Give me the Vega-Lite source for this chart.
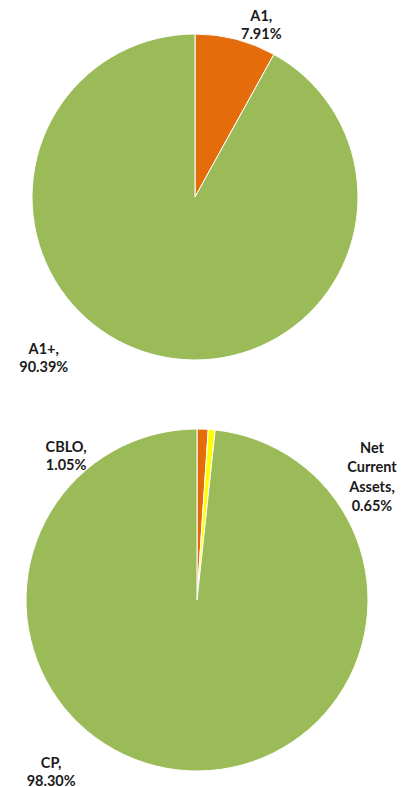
{
  "$schema": "https://vega.github.io/schema/vega-lite/v6.json",
  "padding": 0,
  "spacing": 0,
  "bounds": "flush",
  "background": "white",
  "resolve": {"scale": {"color": "independent", "theta": "independent"}},
  "config": {
    "view": {"stroke": null},
    "text": {"font": "Lato", "fontWeight": "bold", "fontSize": 14.5, "lineHeight": 18, "lineBreak": " ", "color": "#1a1a1a", "align": "center", "baseline": "middle"}
  },
  "datasets": {
    "ratings": [
      {"rating": "A1", "share": 7.91, "rank": 1},
      {"rating": "A1+", "share": 90.39, "rank": 2}
    ],
    "assets": [
      {"asset": "CBLO", "share": 1.05, "rank": 1},
      {"asset": "Net Current Assets", "share": 0.65, "rank": 2},
      {"asset": "CP", "share": 98.30, "rank": 3}
    ]
  },
  "vconcat": [
    {
      "width": 390,
      "height": 394,
      "data": {"name": "ratings"},
      "transform": [
        {"calculate": "datum.rating + ', ' + format(datum.share, '.2f') + '%'", "as": "label"},
        {"stack": "share", "groupby": [], "sort": [{"field": "rank"}], "as": ["s0", "s1"]},
        {"calculate": "(datum.s0 + datum.s1) / 2", "as": "mid"}
      ],
      "layer": [
        {
          "mark": {"type": "arc", "outerRadius": 163, "stroke": "white", "strokeWidth": 1},
          "encoding": {
            "theta": {"field": "share", "type": "quantitative", "stack": true},
            "order": {"field": "rank", "type": "quantitative"},
            "color": {"field": "rating", "type": "nominal", "scale": {"domain": ["A1", "A1+"], "range": ["#E46C0A", "#9BBB59"]}, "legend": null}
          }
        },
        {
          "transform": [{"filter": "datum.rating === 'A1'"}],
          "mark": {"type": "text", "radius": 185, "dx": 20, "dy": -1},
          "encoding": {
            "theta": {"field": "mid", "type": "quantitative", "stack": false},
            "text": {"field": "label", "type": "nominal"}
          }
        },
        {
          "transform": [{"filter": "datum.rating === 'A1+'"}],
          "mark": {"type": "text", "radius": 185, "dx": -105, "dy": -26},
          "encoding": {
            "theta": {"field": "mid", "type": "quantitative", "stack": false},
            "text": {"field": "label", "type": "nominal"}
          }
        }
      ]
    },
    {
      "width": 394,
      "height": 412,
      "data": {"name": "assets"},
      "transform": [
        {"calculate": "datum.asset + ', ' + format(datum.share, '.2f') + '%'", "as": "label"},
        {"stack": "share", "groupby": [], "sort": [{"field": "rank"}], "as": ["s0", "s1"]},
        {"calculate": "(datum.s0 + datum.s1) / 2", "as": "mid"}
      ],
      "layer": [
        {
          "mark": {"type": "arc", "outerRadius": 171, "stroke": "white", "strokeWidth": 1},
          "encoding": {
            "theta": {"field": "share", "type": "quantitative", "stack": true},
            "order": {"field": "rank", "type": "quantitative"},
            "color": {"field": "asset", "type": "nominal", "scale": {"domain": ["CBLO", "Net Current Assets", "CP"], "range": ["#E46C0A", "#FFFF00", "#9BBB59"]}, "legend": null}
          }
        },
        {
          "transform": [{"filter": "datum.asset === 'CBLO'"}],
          "mark": {"type": "text", "radius": 185, "dx": -137, "dy": 33},
          "encoding": {
            "theta": {"field": "mid", "type": "quantitative", "stack": false},
            "text": {"field": "label", "type": "nominal"}
          }
        },
        {
          "transform": [{"filter": "datum.asset === 'Net Current Assets'"}],
          "mark": {"type": "text", "radius": 185, "dx": 159, "dy": 33, "lineHeight": 19.5},
          "encoding": {
            "theta": {"field": "mid", "type": "quantitative", "stack": false},
            "text": {"field": "label", "type": "nominal"}
          }
        },
        {
          "transform": [{"filter": "datum.asset === 'CP'"}],
          "mark": {"type": "text", "radius": 185, "dx": -136, "dy": -21},
          "encoding": {
            "theta": {"field": "mid", "type": "quantitative", "stack": false},
            "text": {"field": "label", "type": "nominal"}
          }
        }
      ]
    }
  ]
}
